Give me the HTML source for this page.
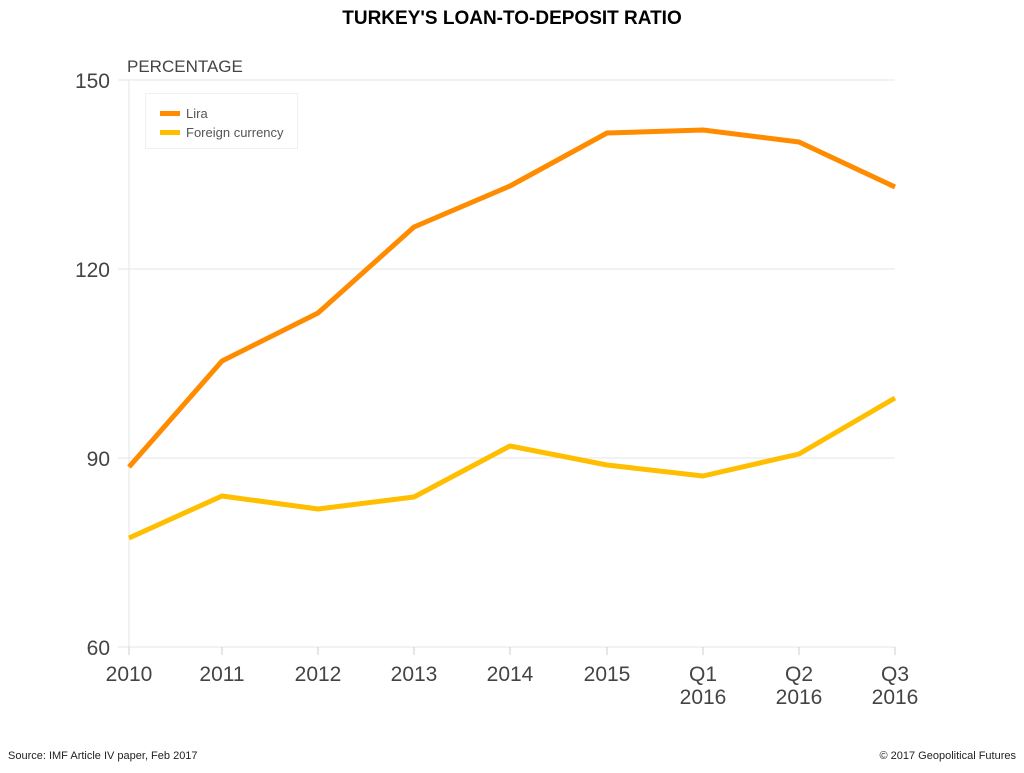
<!DOCTYPE html>
<html><head><meta charset="utf-8"><style>
body{margin:0;background:#fff;width:1024px;height:768px;overflow:hidden}
text{font-family:"Liberation Sans Narrow","Liberation Sans",sans-serif}
</style></head><body>
<svg width="1024" height="768" viewBox="0 0 1024 768">
<text x="512" y="24" text-anchor="middle" font-size="19" font-weight="bold" fill="#000" font-family="Liberation Sans">TURKEY'S LOAN-TO-DEPOSIT RATIO</text>
<g stroke="#e6e6e6" stroke-width="1">
<line x1="118" y1="80" x2="895" y2="80"/>
<line x1="118" y1="269" x2="895" y2="269"/>
<line x1="118" y1="458" x2="895" y2="458"/>
<line x1="118" y1="647" x2="895" y2="647"/>
<line x1="129" y1="80" x2="129" y2="647"/>
</g>
<g stroke="#ccc"><line x1="129" y1="647" x2="129" y2="655"/><line x1="222" y1="647" x2="222" y2="655"/><line x1="318" y1="647" x2="318" y2="655"/><line x1="414" y1="647" x2="414" y2="655"/><line x1="510" y1="647" x2="510" y2="655"/><line x1="607" y1="647" x2="607" y2="655"/><line x1="703" y1="647" x2="703" y2="655"/><line x1="799" y1="647" x2="799" y2="655"/><line x1="895" y1="647" x2="895" y2="655"/></g>
<text x="127" y="72" font-size="17" fill="#444">PERCENTAGE</text>
<g font-size="21" fill="#444" text-anchor="end">
<text x="110" y="88">150</text><text x="110" y="277">120</text><text x="110" y="466">90</text><text x="110" y="655">60</text>
</g>
<g font-size="21" fill="#444" text-anchor="middle">
<text x="129" y="681">2010</text><text x="222" y="681">2011</text><text x="318" y="681">2012</text><text x="414" y="681">2013</text><text x="510" y="681">2014</text><text x="607" y="681">2015</text>
<text x="703" y="681">Q1</text><text x="703" y="704">2016</text>
<text x="799" y="681">Q2</text><text x="799" y="704">2016</text>
<text x="895" y="681">Q3</text><text x="895" y="704">2016</text>
</g>
<rect x="145.5" y="93.5" width="152" height="55" fill="#fff" stroke="#f0f0f0"/>
<rect x="160" y="111" width="20" height="5" fill="#ff8c00"/>
<rect x="160" y="130" width="20" height="5" fill="#ffbf00"/>
<text x="186" y="118" font-size="13" fill="#555">Lira</text>
<text x="186" y="137" font-size="13" fill="#555">Foreign currency</text>
<polyline fill="none" stroke="#ff8c00" stroke-width="5" stroke-linejoin="round" points="129,467 222,361 318,313 414,227 510,186 607,133 703,130 799,142 895,187"/>
<polyline fill="none" stroke="#ffbf00" stroke-width="5" stroke-linejoin="round" points="129,538 222,496 318,509 414,497 510,446 607,465 703,476 799,454 895,398"/>
<text x="8" y="759" font-size="11" fill="#222">Source:  IMF Article IV paper, Feb 2017</text>
<text x="1016" y="759" font-size="11" fill="#222" text-anchor="end">© 2017 Geopolitical Futures</text>
</svg>
</body></html>
